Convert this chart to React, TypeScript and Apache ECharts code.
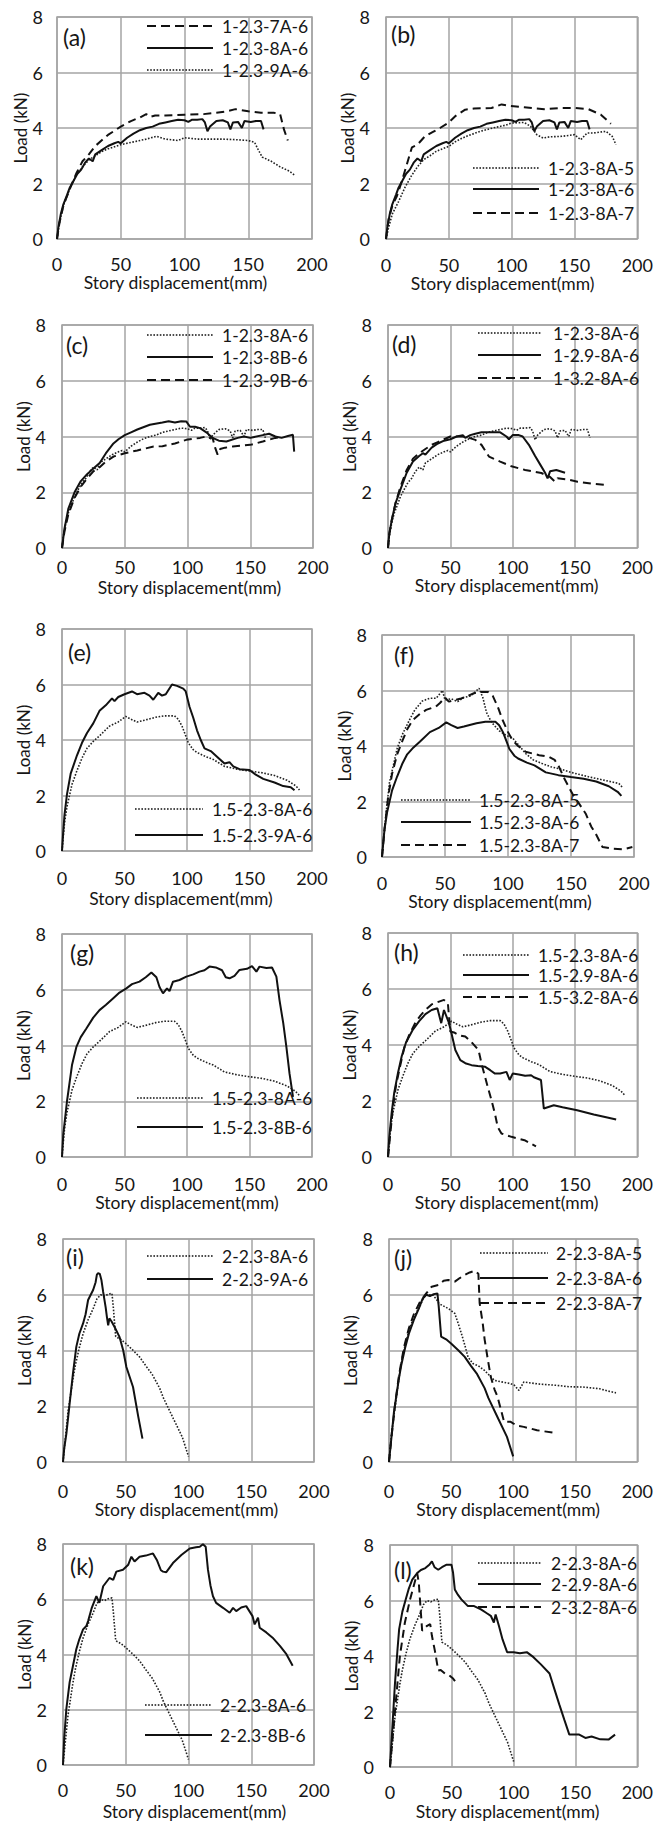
import React, { useEffect, useRef } from "react";
import * as echarts from "echarts";

// ---------------- data (x: story displacement mm, y: load kN) ----------------
const S_1_23_7A_6 = [[0,0],[2,0.6],[5,1.2],[10,1.8],[15,2.35],[20,2.8],[25,3.05],[30,3.35],[40,3.75],[50,4.05],[58,4.25],[65,4.38],[70,4.5],[73,4.4],[77,4.45],[85,4.45],[100,4.48],[115,4.5],[125,4.55],[133,4.6],[140,4.68],[150,4.6],[160,4.55],[170,4.55],[175,4.5],[178,3.95],[181,3.55]];
const S_1_23_8A_6 = [[0,0],[1,0.4],[3,0.9],[5,1.25],[8,1.6],[10,1.85],[13,2.1],[16,2.35],[19,2.5],[22,2.75],[25,2.9],[28,2.8],[30,3.05],[35,3.2],[40,3.35],[45,3.45],[48,3.5],[50,3.45],[55,3.65],[60,3.8],[65,3.92],[70,4.0],[75,4.05],[80,4.15],[85,4.2],[90,4.25],[95,4.3],[100,4.28],[103,4.22],[106,4.3],[110,4.3],[114,4.32],[116,4.2],[118,3.88],[120,4.05],[125,4.25],[130,4.28],[134,4.2],[136,3.95],[138,4.2],[142,4.22],[145,4.0],[147,4.25],[152,4.22],[156,4.25],[160,4.25],[162,3.95]];
const S_1_23_9A_6 = [[0,0],[2,0.6],[5,1.2],[10,1.8],[15,2.3],[20,2.6],[25,2.85],[30,3.0],[35,3.15],[40,3.25],[50,3.4],[60,3.5],[70,3.6],[78,3.7],[85,3.6],[95,3.55],[100,3.65],[110,3.6],[120,3.6],[130,3.6],[140,3.58],[150,3.55],[155,3.48],[158,3.2],[161,2.95],[168,2.8],[175,2.6],[182,2.45],[187,2.28]];
const S_1_23_8A_5 = [[0,0],[2,0.4],[5,0.9],[10,1.35],[15,1.85],[20,2.26],[25,2.6],[30,2.86],[35,3.0],[40,3.16],[45,3.25],[50,3.34],[55,3.5],[60,3.62],[65,3.72],[75,3.88],[85,4.0],[95,4.1],[100,4.18],[110,4.2],[115,4.06],[120,3.76],[125,3.64],[130,3.68],[140,3.7],[150,3.76],[155,3.58],[160,3.82],[165,3.82],[175,3.88],[180,3.7],[183,3.4]];
const S_1_23_8A_7 = [[0,0],[2,0.7],[5,1.2],[8.7,1.55],[12.7,2.1],[16,2.6],[20.6,3.3],[25,3.4],[31,3.7],[37,3.85],[43,4.0],[50,4.2],[55.5,4.44],[63,4.66],[70,4.7],[84,4.72],[92,4.85],[98.6,4.8],[110,4.75],[126,4.68],[140,4.72],[150,4.72],[161,4.68],[171,4.48],[179,4.15]];
const S_1_23_8B_6 = [[0,0],[2,0.7],[5,1.4],[10,2.0],[15,2.4],[20,2.65],[25,2.85],[30,3.05],[35,3.4],[41,3.75],[45,3.9],[50,4.05],[55,4.15],[60,4.25],[70,4.42],[80,4.5],[85,4.55],[90,4.5],[95,4.55],[99,4.54],[102,4.35],[106,4.35],[110,4.3],[115,4.15],[120,3.95],[125,3.85],[131,3.82],[140,3.95],[145,4.0],[150,3.95],[160,4.05],[165,4.1],[170,4.0],[175,3.95],[180,4.02],[184,4.06],[185,3.46]];
const S_1_23_9B_6 = [[0,0],[2,0.6],[5,1.2],[10,1.8],[15,2.2],[20,2.5],[25,2.75],[30,2.9],[35,3.1],[41,3.28],[50,3.4],[60,3.5],[73,3.64],[80,3.65],[90,3.75],[99,3.88],[110,3.95],[115,4.0],[120,3.95],[122,3.6],[124,3.35],[126,3.55],[130,3.6],[136,3.64],[150,3.7],[160,3.82],[170,3.95],[176,4.0]];
const S_1_29_8A_6 = [[0,0],[1,0.5],[3,1.0],[6,1.6],[10,2.1],[15,2.7],[20,3.1],[25,3.3],[28,3.4],[30,3.35],[35,3.6],[40,3.75],[45,3.85],[50,3.9],[55,4.0],[60,4.05],[62,3.95],[66,4.05],[70,4.1],[75,4.15],[80,4.15],[85,4.15],[90,4.15],[95,4.0],[97,3.9],[100,4.05],[105,4.05],[108,4.0],[113,3.7],[118,3.3],[122,3.0],[126,2.7],[128,2.5],[130,2.75],[135,2.8],[142,2.7]];
const S_1_32_8A_6 = [[0,0],[1,0.5],[3,1.0],[6,1.6],[10,2.2],[15,2.8],[20,3.2],[25,3.4],[30,3.55],[35,3.7],[40,3.8],[45,3.9],[50,4.0],[60,4.0],[65,3.95],[70,3.88],[75,3.7],[81,3.28],[90,3.1],[99,2.93],[110,2.8],[123,2.69],[130,2.55],[134,2.38],[136,2.5],[145,2.45],[152,2.38],[165,2.3],[176,2.26]];
const S_15_23_8A_6 = [[0,0],[2,1.0],[4,1.6],[8,2.4],[12,2.9],[16,3.35],[20,3.7],[25,3.95],[30,4.15],[38,4.5],[45,4.65],[51,4.85],[55,4.75],[60,4.65],[65,4.7],[75,4.82],[82,4.87],[90,4.87],[93,4.75],[96,4.5],[99,4.15],[101,3.9],[105,3.65],[108,3.55],[115,3.4],[121,3.3],[130,3.05],[140,2.95],[150,2.88],[160,2.82],[170,2.72],[180,2.55],[187,2.35],[190,2.2]];
const S_15_23_9A_6 = [[0,0],[1,0.7],[2,1.3],[4,2.05],[7,2.8],[12,3.45],[16,3.9],[20,4.25],[25,4.6],[30,5.05],[35,5.25],[40,5.5],[42,5.4],[45,5.55],[50,5.65],[56,5.75],[60,5.65],[66,5.7],[70,5.6],[73,5.45],[77,5.7],[80,5.6],[83,5.65],[88,6.0],[92,5.95],[97,5.85],[99,5.75],[102,5.2],[105,4.8],[108,4.35],[111,4.0],[114,3.7],[119,3.6],[124,3.4],[130,3.15],[134,3.2],[137,3.05],[142,2.95],[150,2.92],[155,2.75],[161,2.6],[170,2.47],[177,2.34],[183,2.3],[186,2.19]];
const S_15_23_8A_5 = [[0,0],[2,1.0],[4,1.9],[6,2.7],[8.5,3.2],[12,3.9],[16,4.4],[21.7,4.93],[26,5.3],[32,5.62],[38,5.72],[43,5.72],[48,6.0],[50,5.66],[55,5.7],[60,5.6],[65,5.75],[70,5.8],[74,5.95],[77,6.08],[80,5.75],[83,5.2],[87,4.85],[93,4.55],[98,4.4],[104,4.27],[110,3.95],[114,3.73],[120,3.5],[127,3.37],[134,3.25],[140,3.19],[150,3.05],[164,2.89],[175,2.78],[188,2.65],[191,2.5]];
const S_15_23_8A_7 = [[0,0],[2,1.0],[5,2.2],[8,3.0],[12,3.7],[16.4,4.21],[20,4.6],[24.3,4.93],[30,5.15],[35,5.3],[42.8,5.42],[46,5.55],[50,5.75],[53,5.6],[57,5.65],[62,5.7],[68,5.8],[73,5.9],[78,5.95],[84,5.95],[88,5.8],[92,5.4],[95.6,4.95],[100,4.5],[103.6,4.21],[108,4.0],[114,3.79],[124.7,3.67],[132.6,3.61],[137,3.5],[140.5,3.25],[145,2.8],[151,2.29],[156,1.95],[161.7,1.56],[166,1.1],[169.6,0.84],[175,0.36],[183,0.3],[192,0.28],[198.7,0.36]];
const S_15_23_8B_6 = [[0,0],[1,0.8],[4,2.0],[8,3.3],[11.5,3.95],[15,4.3],[19.5,4.61],[25,5.0],[30,5.27],[35,5.45],[40.8,5.69],[46,5.9],[51.5,6.05],[56,6.2],[62,6.29],[67,6.45],[71.5,6.62],[75.5,6.45],[78,6.1],[80.8,5.87],[84,6.05],[86,5.95],[88.8,6.29],[94,6.35],[99.5,6.47],[105,6.55],[110,6.65],[114,6.7],[118,6.83],[123,6.8],[128,6.7],[131,6.45],[134,6.41],[138,6.5],[142,6.71],[148,6.75],[152,6.85],[155.5,6.65],[158,6.83],[163.5,6.78],[168,6.8],[171.5,6.47],[174,5.63],[177,4.8],[179.5,3.95],[182,3.0],[184.8,2.16]];
const S_15_29_8A_6 = [[0,0],[1,0.7],[3,1.6],[5,2.3],[8,3.0],[11,3.6],[14.5,4.1],[20,4.55],[25,4.85],[30,5.1],[35,5.25],[39.6,5.31],[42.7,4.78],[44.9,5.25],[48.8,4.8],[51,4.4],[54,3.82],[58,3.46],[62,3.35],[67,3.28],[72,3.25],[78,3.22],[82,3.1],[85.8,2.98],[90,2.98],[95,3.04],[97.6,2.75],[100,2.98],[105,2.95],[110,2.9],[114.8,2.92],[117,2.85],[122.7,2.75],[125,1.73],[133,1.85],[140,1.78],[151.7,1.67],[165,1.52],[175,1.42],[183,1.34]];
const S_15_32_8A_6 = [[0,0],[2,0.9],[4,1.8],[6.6,2.6],[10,3.3],[13,3.9],[17,4.36],[22,4.8],[26,5.05],[30,5.25],[35,5.45],[41,5.55],[44.9,5.61],[48,5.5],[50,4.48],[53,4.45],[57,4.35],[62,4.3],[67,4.1],[72.6,3.82],[75,3.34],[77.8,2.87],[80,2.5],[83,2.03],[86,1.5],[88,1.07],[91,0.84],[99,0.72],[109.5,0.6],[118.7,0.38]];
const S_2_23_8A_6 = [[0,0],[2,0.9],[4,1.8],[6,2.4],[8,3.0],[10,3.5],[13,4.1],[16,4.6],[20,5.1],[24,5.5],[27,5.85],[30,6.0],[33,5.95],[36,6.02],[39,6.05],[40,5.6],[42,4.5],[46,4.4],[50,4.25],[56,4.0],[61,3.77],[66,3.45],[71,3.15],[77,2.65],[80,2.3],[88,1.55],[95,0.9],[100,0.2]];
const S_2_23_9A_6 = [[0,0],[1,0.5],[2.7,1.02],[5.3,2.1],[8,3.2],[10.6,4.13],[13,4.6],[16,4.97],[18,5.3],[20,5.81],[24,6.17],[26,6.45],[27,6.72],[28,6.77],[29.3,6.75],[30.6,6.53],[32,6.1],[34,5.55],[35,5.2],[36,4.9],[37,5.15],[38.6,5.05],[41,4.85],[45,4.49],[48,4.0],[50.5,3.41],[55.8,2.69],[60,1.62],[63.3,0.84]];
const S_2_23_8A_5 = [[0,0],[2,1.0],[5,2.0],[8,3.0],[10,3.6],[13,4.2],[16,4.7],[20,5.2],[25,5.6],[28,5.9],[30,6.0],[35,6.0],[38,5.85],[40,5.7],[42.4,5.63],[48,5.5],[53,5.33],[55.5,5.0],[58.3,4.61],[61,4.2],[63.6,3.77],[67.5,3.53],[72,3.45],[76.8,3.29],[81,3.1],[84.8,2.93],[90,2.88],[98,2.81],[101,2.75],[104.6,2.57],[108.6,2.87],[120,2.8],[135,2.75],[145,2.7],[156,2.69],[169.5,2.63],[176,2.55],[182.8,2.48]];
const S_2_23_8A_7 = [[0,0],[2,0.9],[5,2.1],[8,3.1],[12,4.1],[16,4.8],[20,5.3],[25,5.75],[30,6.05],[34.4,6.29],[40,6.35],[44,6.5],[47.7,6.53],[53,6.47],[57,6.6],[61,6.71],[65,6.8],[69,6.86],[72,6.75],[73,5.7],[75.5,4.97],[77,4.4],[79.5,3.7],[82,3.05],[85,2.6],[87.4,2.34],[90,1.9],[92.7,1.44],[98,1.44],[103,1.3],[108.6,1.26],[119.2,1.14],[133.8,1.04]];
const S_2_23_8B_6 = [[0,0],[1,1.0],[2.7,2.04],[5.3,3.0],[8,3.6],[10.6,4.19],[13,4.55],[16,4.91],[18.6,5.03],[20,5.21],[23,5.7],[26.6,6.11],[29,5.87],[32,6.47],[37,6.77],[40,6.7],[42.5,7.0],[47.8,7.07],[52,7.25],[54.5,7.54],[57,7.37],[61,7.54],[66,7.58],[71.7,7.66],[75,7.4],[78,7.05],[79.7,7.0],[82.3,6.98],[87.6,7.31],[94.3,7.6],[101,7.84],[106,7.88],[109,7.9],[111.5,7.99],[113.7,7.9],[115.5,7.07],[117.5,6.5],[119.5,6.11],[122,5.87],[127.5,5.69],[132.8,5.51],[135.5,5.69],[138,5.57],[142,5.7],[146,5.75],[151,5.39],[152.7,5.09],[155.4,5.33],[156.7,4.97],[162,4.8],[167,4.61],[173,4.3],[178,4.01],[183,3.59]];
const S_2_29_8A_6 = [[0,0],[2,1.5],[4,3.0],[6,4.2],[7.4,4.97],[10,5.6],[12.7,6.04],[15,6.4],[18,6.75],[22,6.99],[25,7.1],[28.6,7.17],[32,7.3],[33.9,7.41],[36,7.2],[39,7.11],[42,7.2],[45.8,7.29],[49.7,7.29],[51,7.0],[52.4,6.4],[55,6.2],[57.7,6.04],[63,5.8],[68,5.8],[73.5,5.68],[78,5.55],[81.5,5.45],[84,5.21],[85.4,5.5],[88,5.1],[91,4.6],[94.7,4.14],[100,4.14],[105,4.1],[110.6,4.14],[116,3.96],[122,3.7],[129,3.37],[133,2.8],[137,2.24],[141,1.7],[145,1.17],[153,1.17],[158,1.05],[163,1.1],[170,1.0],[176.7,0.99],[182,1.17]];
const S_2_32_8A_6 = [[0,0],[2,1.0],[5,2.5],[8,4.0],[12,5.2],[16,6.0],[19,6.5],[22,6.99],[23.3,6.63],[24.6,5.8],[26,4.91],[28,5.0],[30,5.09],[32.5,5.15],[33.9,4.73],[36.5,4.14],[39,3.48],[41,3.5],[44.4,3.37],[48,3.3],[51,3.19],[55,2.95]];

const X_TICKS = [0, 50, 100, 150, 200];
const Y_TICKS = [0, 2, 4, 6, 8];
const X_NAME = "Story displacement(mm)";
const Y_NAME = "Load (kN)";

// ---------------- panels ----------------
type Sty = "solid" | "dashed" | "dotted";
interface SeriesDef { name: string; data: number[][]; style: Sty }
interface Panel {
  label: string;
  left: number; top: number; w: number; h: number;
  tickGap: number; nameGap: number; nameShift: number; yNameGap: number; yLabelGap: number;
  labelPos: [number, number];
  legend: { x1: number; x2: number; ys: number[]; tx: number };
  series: SeriesDef[];
}

const panels: Panel[] = [
  { label: "(a)", left: 57, top: 17, w: 255, h: 222, tickGap: 16, nameGap: 32, nameShift: -9, yNameGap: 26, yLabelGap: 14, labelPos: [63, 37],
    legend: { x1: 147, x2: 213, ys: [26, 48, 70], tx: 222 },
    series: [
      { name: "1-2.3-7A-6", data: S_1_23_7A_6, style: "dashed" },
      { name: "1-2.3-8A-6", data: S_1_23_8A_6, style: "solid" },
      { name: "1-2.3-9A-6", data: S_1_23_9A_6, style: "dotted" },
    ] },
  { label: "(b)", left: 386, top: 17, w: 253, h: 222, tickGap: 17, nameGap: 35, nameShift: -9, yNameGap: 28, yLabelGap: 16, labelPos: [391, 34],
    legend: { x1: 473, x2: 539, ys: [168, 189, 213], tx: 548 },
    series: [
      { name: "1-2.3-8A-5", data: S_1_23_8A_5, style: "dotted" },
      { name: "1-2.3-8A-6", data: S_1_23_8A_6, style: "solid" },
      { name: "1-2.3-8A-7", data: S_1_23_8A_7, style: "dashed" },
    ] },
  { label: "(c)", left: 62, top: 325, w: 251, h: 223, tickGap: 10, nameGap: 30, nameShift: 2, yNameGap: 27, yLabelGap: 16, labelPos: [66, 345],
    legend: { x1: 147, x2: 213, ys: [335, 357, 380], tx: 222 },
    series: [
      { name: "1-2.3-8A-6", data: S_1_23_8A_6, style: "dotted" },
      { name: "1-2.3-8B-6", data: S_1_23_8B_6, style: "solid" },
      { name: "1-2.3-9B-6", data: S_1_23_9B_6, style: "dashed" },
    ] },
  { label: "(d)", left: 388, top: 325, w: 251, h: 223, tickGap: 10, nameGap: 27, nameShift: -6, yNameGap: 27, yLabelGap: 16, labelPos: [392, 344],
    legend: { x1: 478, x2: 541, ys: [333, 355, 378], tx: 553 },
    series: [
      { name: "1-2.3-8A-6", data: S_1_23_8A_6, style: "dotted" },
      { name: "1-2.9-8A-6", data: S_1_29_8A_6, style: "solid" },
      { name: "1-3.2-8A-6", data: S_1_32_8A_6, style: "dashed" },
    ] },
  { label: "(e)", left: 62, top: 629, w: 250, h: 222, tickGap: 18, nameGap: 38, nameShift: -6, yNameGap: 27, yLabelGap: 16, labelPos: [68, 652],
    legend: { x1: 135, x2: 203, ys: [809, 835], tx: 212 },
    series: [
      { name: "1.5-2.3-8A-6", data: S_15_23_8A_6, style: "dotted" },
      { name: "1.5-2.3-9A-6", data: S_15_23_9A_6, style: "solid" },
    ] },
  { label: "(f)", left: 382, top: 635, w: 252, h: 222, tickGap: 17, nameGap: 33, nameShift: -8, yNameGap: 22, yLabelGap: 15, labelPos: [394, 655],
    legend: { x1: 401, x2: 471, ys: [800, 822, 845], tx: 479 },
    series: [
      { name: "1.5-2.3-8A-5", data: S_15_23_8A_5, style: "dotted" },
      { name: "1.5-2.3-8A-6", data: S_15_23_8A_6, style: "solid" },
      { name: "1.5-2.3-8A-7", data: S_15_23_8A_7, style: "dashed" },
    ] },
  { label: "(g)", left: 62, top: 934, w: 250, h: 223, tickGap: 18, nameGap: 33, nameShift: 0, yNameGap: 27, yLabelGap: 16, labelPos: [70, 953],
    legend: { x1: 137, x2: 203, ys: [1098, 1127], tx: 212 },
    series: [
      { name: "1.5-2.3-8A-6", data: S_15_23_8A_6, style: "dotted" },
      { name: "1.5-2.3-8B-6", data: S_15_23_8B_6, style: "solid" },
    ] },
  { label: "(h)", left: 388, top: 933, w: 252, h: 224, tickGap: 18, nameGap: 33, nameShift: -6, yNameGap: 27, yLabelGap: 16, labelPos: [394, 952],
    legend: { x1: 463, x2: 529, ys: [955, 975, 997], tx: 538 },
    series: [
      { name: "1.5-2.3-8A-6", data: S_15_23_8A_6, style: "dotted" },
      { name: "1.5-2.9-8A-6", data: S_15_29_8A_6, style: "solid" },
      { name: "1.5-3.2-8A-6", data: S_15_32_8A_6, style: "dashed" },
    ] },
  { label: "(i)", left: 63, top: 1239, w: 251, h: 223, tickGap: 20, nameGap: 32, nameShift: -2, yNameGap: 27, yLabelGap: 16, labelPos: [66, 1257],
    legend: { x1: 147, x2: 213, ys: [1256, 1279], tx: 222 },
    series: [
      { name: "2-2.3-8A-6", data: S_2_23_8A_6, style: "dotted" },
      { name: "2-2.3-9A-6", data: S_2_23_9A_6, style: "solid" },
    ] },
  { label: "(j)", left: 389, top: 1239, w: 252, h: 223, tickGap: 20, nameGap: 32, nameShift: -5, yNameGap: 27, yLabelGap: 16, labelPos: [394, 1258],
    legend: { x1: 480, x2: 548, ys: [1253, 1278, 1303], tx: 556 },
    series: [
      { name: "2-2.3-8A-5", data: S_2_23_8A_5, style: "dotted" },
      { name: "2-2.3-8A-6", data: S_2_23_8A_6, style: "solid" },
      { name: "2-2.3-8A-7", data: S_2_23_8A_7, style: "dashed" },
    ] },
  { label: "(k)", left: 63, top: 1544, w: 251, h: 223, tickGap: 16, nameGap: 37, nameShift: 6, yNameGap: 27, yLabelGap: 16, labelPos: [70, 1566],
    legend: { x1: 145, x2: 212, ys: [1705, 1735], tx: 220 },
    series: [
      { name: "2-2.3-8A-6", data: S_2_23_8A_6, style: "dotted" },
      { name: "2-2.3-8B-6", data: S_2_23_8B_6, style: "solid" },
    ] },
  { label: "(l)", left: 390, top: 1545, w: 252, h: 224, tickGap: 16, nameGap: 32, nameShift: -6, yNameGap: 27, yLabelGap: 16, labelPos: [394, 1570],
    legend: { x1: 478, x2: 541, ys: [1563, 1584, 1607], tx: 551 },
    series: [
      { name: "2-2.3-8A-6", data: S_2_23_8A_6, style: "dotted" },
      { name: "2-2.9-8A-6", data: S_2_29_8A_6, style: "solid" },
      { name: "2-3.2-8A-6", data: S_2_32_8A_6, style: "dashed" },
    ] },
];

const FONT = "Lato, 'Open Sans', sans-serif";
const INK = "#161616";
const GRID_GRAY = "#a4a4a4";
const TICK_FS = 18;
const NAME_FS = 17.5;
const LEGEND_FS = 17.5;
const LABEL_FS = 23;

const lineStyleFor = (s: Sty) => {
  if (s === "solid") return { color: "#111", width: 2, type: "solid" as const };
  if (s === "dashed") return { color: "#111", width: 2, type: [8, 5] };
  return { color: "#222", width: 1.6, type: [1.6, 1.6] };
};
const dashFor = (s: Sty) => (s === "solid" ? null : s === "dashed" ? [9, 5] : [1.6, 1.6]);

function buildOption() {
  const grid: any[] = [];
  const xAxis: any[] = [];
  const yAxis: any[] = [];
  const series: any[] = [];
  const graphic: any[] = [];

  panels.forEach((p, i) => {
    grid.push({
      left: p.left, top: p.top, width: p.w, height: p.h,
      show: true, borderColor: GRID_GRAY, borderWidth: 1.5, backgroundColor: "transparent",
    });
    const shift = p.nameShift;
    xAxis.push({
      gridIndex: i, type: "value",
      min: X_TICKS[0], max: X_TICKS[X_TICKS.length - 1], interval: X_TICKS[1] - X_TICKS[0],
      name: X_NAME, nameLocation: "middle", nameGap: p.nameGap,
      nameTextStyle: {
        fontSize: NAME_FS, fontFamily: FONT, color: INK,
        padding: shift < 0 ? [0, -2 * shift, 0, 0] : [0, 0, 0, 2 * shift],
      },
      axisLine: { show: false }, axisTick: { show: false },
      axisLabel: { margin: p.tickGap, fontSize: TICK_FS, fontFamily: FONT, color: INK },
      splitLine: { show: true, lineStyle: { color: GRID_GRAY, width: 1.5 } },
    });
    yAxis.push({
      gridIndex: i, type: "value",
      min: Y_TICKS[0], max: Y_TICKS[Y_TICKS.length - 1], interval: Y_TICKS[1] - Y_TICKS[0],
      name: Y_NAME, nameLocation: "middle", nameRotate: 90, nameGap: p.yNameGap,
      nameTextStyle: { fontSize: 17, fontFamily: FONT, color: INK },
      axisLine: { show: false }, axisTick: { show: false },
      axisLabel: { margin: p.yLabelGap, fontSize: TICK_FS, fontFamily: FONT, color: INK },
      splitLine: { show: true, lineStyle: { color: GRID_GRAY, width: 1.5 } },
    });
    p.series.forEach((s) => {
      series.push({
        type: "line", name: s.name, xAxisIndex: i, yAxisIndex: i,
        data: s.data, symbol: "none", showSymbol: false, smooth: false,
        lineStyle: lineStyleFor(s.style), z: s.style === "solid" ? 3 : 2,
        silent: true,
      });
    });
    // legend (drawn by hand: names repeat across panels with different styles)
    p.series.forEach((s, k) => {
      const y = p.legend.ys[k];
      const dash = dashFor(s.style);
      graphic.push({
        type: "line", z: 10,
        shape: { x1: p.legend.x1, y1: y, x2: p.legend.x2, y2: y },
        style: { stroke: "#111", lineWidth: s.style === "dotted" ? 1.6 : 2, lineDash: dash || undefined },
      });
      graphic.push({
        type: "text", z: 10, x: p.legend.tx, y,
        style: { text: s.name, fill: INK, fontSize: LEGEND_FS, fontFamily: FONT, verticalAlign: "middle", align: "left" },
      });
    });
    graphic.push({
      type: "text", z: 10, x: p.labelPos[0], y: p.labelPos[1],
      style: { text: p.label, fill: INK, fontSize: LABEL_FS, fontFamily: FONT, verticalAlign: "middle", align: "left" },
    });
  });

  return {
    animation: false,
    backgroundColor: "#ffffff",
    grid, xAxis, yAxis, series, graphic,
  };
}

export default function App() {
  const ref = useRef<HTMLDivElement>(null);
  useEffect(() => {
    document.body.style.margin = "0";
    if (!ref.current) return;
    const chart = echarts.init(ref.current, undefined, { renderer: "svg" });
    chart.setOption(buildOption() as any);
    return () => chart.dispose();
  }, []);
  return <div ref={ref} style={{ width: 656, height: 1821, background: "#fff" }} />;
}
